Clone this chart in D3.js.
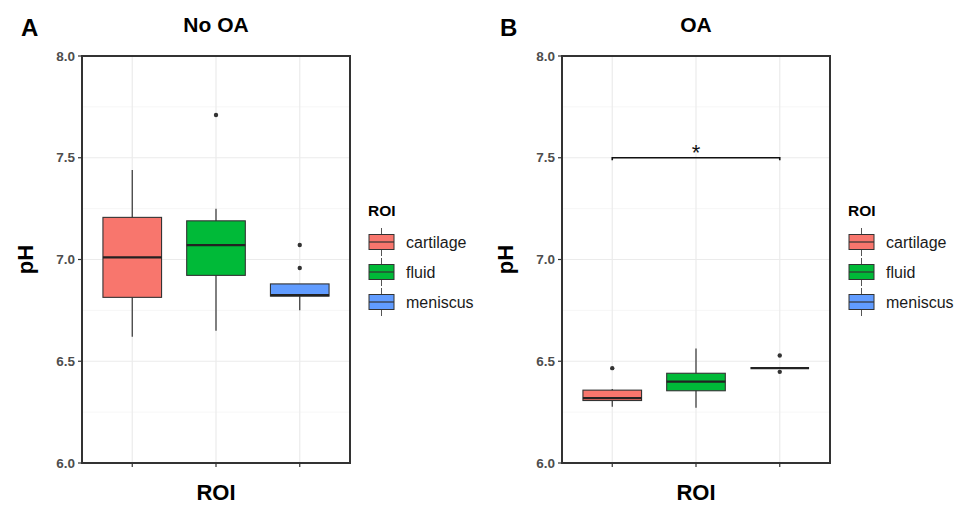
<!DOCTYPE html>
<html>
<head>
<meta charset="utf-8">
<script src="https://cdn.jsdelivr.net/npm/d3@7"></script>
<style>
  body { margin: 0; background: #fff; }
  text { font-family: "Liberation Sans", Arial, sans-serif; }
</style>
</head>
<body>
<div id="figure"></div>
<script>
// categories + box statistics
const rois = ['cartilage', 'fluid', 'meniscus'];
const roiColors = ['#F8766D', '#00BA38', '#619CFF'];
const yTicks = [6.0, 6.5, 7.0, 7.5, 8.0];
const yMinor = [6.25, 6.75, 7.25, 7.75];

// [lower whisker, q1, median, q3, upper whisker]
const noOaStats = [
  [6.62, 6.814, 7.01, 7.207, 7.44],
  [6.65, 6.922, 7.071, 7.19, 7.25],
  [6.751, 6.82, 6.825, 6.88, 6.88]
];
const noOaOutliers = [[], [7.71], [7.071, 6.958]];

const oaStats = [
  [6.276, 6.307, 6.319, 6.358, 6.364],
  [6.271, 6.355, 6.40, 6.441, 6.563],
  [6.466, 6.466, 6.466, 6.466, 6.466]
];
const oaOutliers = [[6.466], [], [6.528, 6.448]];

// significance bracket for panel B
const sigPairs = [{ from: 'cartilage', to: 'meniscus', y: 7.5, label: '*' }];

const width = 964, height = 505;

const svg = d3.select('#figure').append('svg')
  .attr('width', width)
  .attr('height', height);

svg.append('rect').attr('width', width).attr('height', height).attr('fill', '#fff');

function drawPanel(opt) {
  const x0 = opt.x0, x1 = opt.x0 + 268, y0 = 56, y1 = 463;
  const g = svg.append('g');

  const x = d3.scalePoint().domain(rois).range([x0, x1]).padding(0.6);
  const y = d3.scaleLinear().domain([6, 8]).range([y1, y0]);
  const boxW = x.step() * 0.7;

  // grid
  g.selectAll('.minor').data(yMinor).enter().append('line')
    .attr('x1', x0).attr('x2', x1)
    .attr('y1', d => y(d)).attr('y2', d => y(d))
    .attr('stroke', '#f2f2f2').attr('stroke-width', 0.7);
  g.selectAll('.major').data(yTicks).enter().append('line')
    .attr('x1', x0).attr('x2', x1)
    .attr('y1', d => y(d)).attr('y2', d => y(d))
    .attr('stroke', '#ebebeb').attr('stroke-width', 1.2);
  g.selectAll('.vgrid').data(rois).enter().append('line')
    .attr('x1', d => x(d)).attr('x2', d => x(d))
    .attr('y1', y0).attr('y2', y1)
    .attr('stroke', '#ebebeb').attr('stroke-width', 1.2);

  // boxes
  const boxes = g.selectAll('.box').data(opt.stats).enter().append('g');
  boxes.append('line')
    .attr('x1', (d, i) => x(rois[i])).attr('x2', (d, i) => x(rois[i]))
    .attr('y1', d => y(d[0])).attr('y2', d => y(d[4]))
    .attr('stroke', '#333').attr('stroke-width', 1.2);
  boxes.append('rect')
    .attr('x', (d, i) => x(rois[i]) - boxW / 2)
    .attr('width', boxW)
    .attr('y', d => y(d[3]))
    .attr('height', d => Math.max(0, y(d[1]) - y(d[3])))
    .attr('fill', (d, i) => roiColors[i])
    .attr('stroke', '#333').attr('stroke-width', 1.1);
  boxes.append('line')
    .attr('x1', (d, i) => x(rois[i]) - boxW / 2).attr('x2', (d, i) => x(rois[i]) + boxW / 2)
    .attr('y1', d => y(d[2])).attr('y2', d => y(d[2]))
    .attr('stroke', '#222').attr('stroke-width', 2.2);

  // outliers
  opt.outliers.forEach((pts, i) => {
    g.selectAll('.out' + i).data(pts).enter().append('circle')
      .attr('cx', x(rois[i])).attr('cy', d => y(d))
      .attr('r', 2.2).attr('fill', '#333');
  });

  // significance
  (opt.sig || []).forEach(s => {
    const yy = y(s.y);
    g.append('path')
      .attr('d', `M${x(s.from)},${yy + 2.5}V${yy}H${x(s.to)}V${yy + 2.5}`)
      .attr('fill', 'none').attr('stroke', '#111').attr('stroke-width', 1.6);
    g.append('text')
      .attr('x', (x(s.from) + x(s.to)) / 2).attr('y', yy + 2)
      .attr('text-anchor', 'middle').attr('font-size', 22)
      .attr('fill', '#111').text(s.label);
  });

  // panel border
  g.append('rect')
    .attr('x', x0).attr('y', y0).attr('width', x1 - x0).attr('height', y1 - y0)
    .attr('fill', 'none').attr('stroke', '#333').attr('stroke-width', 2);

  // y axis ticks
  g.selectAll('.ytick').data(yTicks).enter().append('line')
    .attr('x1', x0 - 4).attr('x2', x0)
    .attr('y1', d => y(d)).attr('y2', d => y(d))
    .attr('stroke', '#333').attr('stroke-width', 1.2);
  g.selectAll('.ylab').data(yTicks).enter().append('text')
    .attr('x', x0 - 7).attr('y', d => y(d)).attr('dy', '0.35em')
    .attr('text-anchor', 'end').attr('font-size', 13.5).attr('font-weight', 'bold')
    .attr('fill', '#4d4d4d').text(d => d.toFixed(1));
  // x axis ticks
  g.selectAll('.xtick').data(rois).enter().append('line')
    .attr('x1', d => x(d)).attr('x2', d => x(d))
    .attr('y1', y1).attr('y2', y1 + 4)
    .attr('stroke', '#333').attr('stroke-width', 1.2);

  // titles
  const cx = (x0 + x1) / 2;
  g.append('text').attr('x', cx).attr('y', 32).attr('text-anchor', 'middle')
    .attr('font-size', 21).attr('font-weight', 'bold').text(opt.title);
  g.append('text').attr('x', opt.tagX).attr('y', 36)
    .attr('font-size', 24).attr('font-weight', 'bold').text(opt.tag);
  g.append('text').attr('x', cx).attr('y', 500).attr('text-anchor', 'middle')
    .attr('font-size', 22).attr('font-weight', 'bold').text('ROI');
  g.append('text')
    .attr('transform', `translate(${x0 - 49},${(y0 + y1) / 2}) rotate(-90)`)
    .attr('text-anchor', 'middle')
    .attr('font-size', 22).attr('font-weight', 'bold').text('pH');

  // legend
  const lx = x1 + 19;
  const leg = g.append('g').attr('transform', `translate(${lx},0)`);
  leg.append('text').attr('x', -1).attr('y', 216)
    .attr('font-size', 15.5).attr('font-weight', 'bold').text('ROI');
  const items = leg.selectAll('.item').data(rois).enter().append('g')
    .attr('transform', (d, i) => `translate(0,${242 + i * 30})`);
  items.append('line')
    .attr('x1', 12.5).attr('x2', 12.5).attr('y1', -14).attr('y2', 14)
    .attr('stroke', '#555').attr('stroke-width', 1);
  items.append('rect')
    .attr('x', 0).attr('y', -7.5).attr('width', 25).attr('height', 15)
    .attr('fill', (d, i) => roiColors[i]).attr('stroke', '#333').attr('stroke-width', 1);
  items.append('line')
    .attr('x1', 0).attr('x2', 25).attr('y1', 0).attr('y2', 0)
    .attr('stroke', '#333').attr('stroke-width', 1.2);
  items.append('text').attr('x', 37).attr('y', 0).attr('dy', '0.35em')
    .attr('font-size', 16).attr('fill', '#1a1a1a').text(d => d);
}

drawPanel({ x0: 82, title: 'No OA', tag: 'A', tagX: 21, stats: noOaStats, outliers: noOaOutliers });
drawPanel({ x0: 562, title: 'OA', tag: 'B', tagX: 500, stats: oaStats, outliers: oaOutliers, sig: sigPairs });
</script>
</body>
</html>
